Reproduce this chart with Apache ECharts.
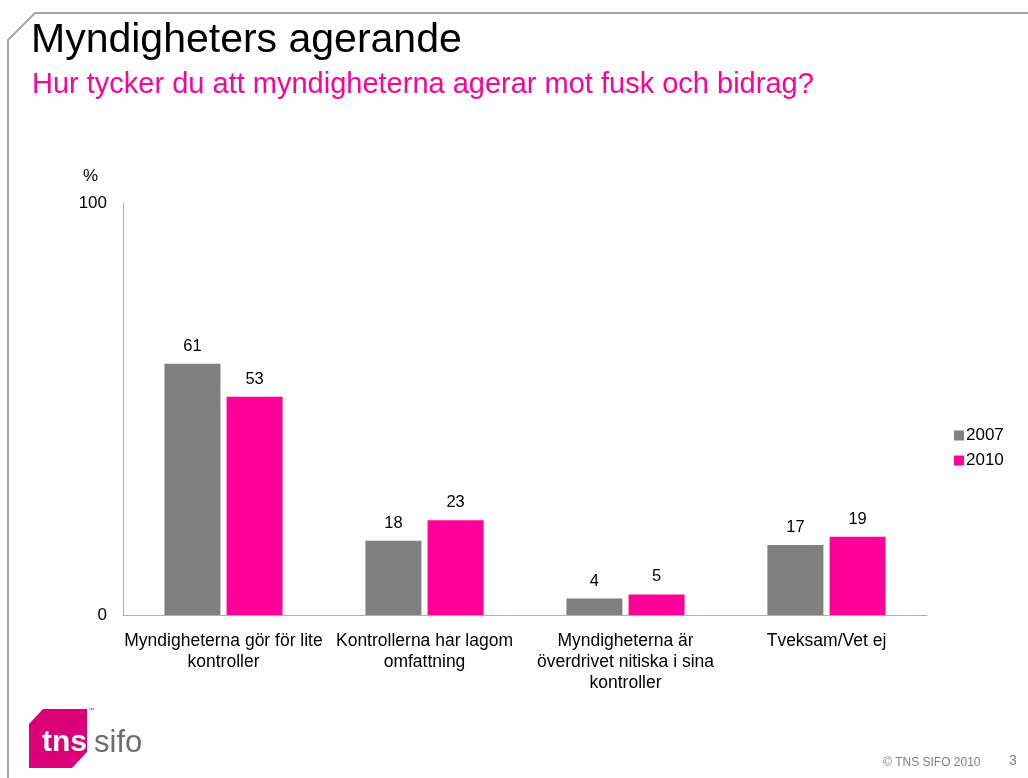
<!DOCTYPE html>
<html>
<head>
<meta charset="utf-8">
<script src="https://cdn.jsdelivr.net/npm/echarts@6/dist/echarts.min.js"></script>
<style>
  html, body { margin: 0; padding: 0; background: #fff; }
  #chart { width: 1028px; height: 778px; }
</style>
</head>
<body>
<div id="chart"></div>
<script>
// answer categories (line breaks as on the slide)
const categories = [
  'Myndigheterna gör för lite\nkontroller',
  'Kontrollerna har lagom\nomfattning',
  'Myndigheterna är\növerdrivet nitiska i sina\nkontroller',
  'Tveksam/Vet ej'
]
const years = ['2007', '2010']
const values2007 = [61, 18, 4, 17]
const values2010 = [53, 23, 5, 19]
const yTicks = [0, 100]

const GRAY = '#808080'
const PINK = '#ff0099'
const FONT = '"Liberation Sans", Arial, sans-serif'

const chart = echarts.init(document.getElementById('chart'))

const barSeries = (name, data, color) => ({
  name,
  type: 'bar',
  data,
  barWidth: 56,
  barGap: '11%',
  itemStyle: { color },
  label: {
    show: true,
    position: 'top',
    distance: 9,
    color: '#000',
    fontSize: 16.5,
    fontFamily: FONT
  }
})

chart.setOption({
  animation: false,
  backgroundColor: '#fff',
  textStyle: { fontFamily: FONT },
  grid: { left: 123, right: 101, top: 203, bottom: 163 },
  legend: {
    orient: 'vertical',
    left: 949,
    top: 422,
    itemWidth: 10,
    itemHeight: 10,
    itemGap: 8,
    icon: 'rect',
    textStyle: { fontSize: 17, color: '#000', fontFamily: FONT, padding: [0, 0, 0, -3] },
    data: years
  },
  xAxis: {
    type: 'category',
    data: categories,
    axisLine: { lineStyle: { color: '#b0b0b0', width: 1 } },
    axisTick: { show: false },
    axisLabel: {
      color: '#000',
      fontSize: 17.5,
      fontFamily: FONT,
      margin: 16,
      lineHeight: 21,
      interval: 0
    }
  },
  yAxis: {
    type: 'value',
    min: 0,
    max: 100,
    interval: 100,
    name: '%',
    nameLocation: 'end',
    nameGap: 18,
    nameTextStyle: { color: '#000', fontSize: 17, fontFamily: FONT, align: 'right', padding: [0, 25, 0, 0] },
    axisLine: { show: true, lineStyle: { color: '#b0b0b0', width: 1 } },
    axisTick: { show: false },
    splitLine: { show: false },
    axisLabel: {
      color: '#000',
      fontSize: 17,
      fontFamily: FONT,
      margin: 16,
      formatter: v => (yTicks.includes(v) ? String(v) : '')
    }
  },
  series: [
    barSeries(years[0], values2007, GRAY),
    barSeries(years[1], values2010, PINK)
  ],
  graphic: [
    // slide frame with chamfered top-left corner
    {
      type: 'polyline',
      shape: { points: [[8, 778], [8, 40], [35, 13], [1028, 13]] },
      style: { stroke: '#a6a6a6', lineWidth: 2, fill: null }
    },
    {
      type: 'text',
      left: 31,
      top: 20,
      style: { text: 'Myndigheters agerande', fontSize: 41, fill: '#000', fontFamily: FONT }
    },
    {
      type: 'text',
      left: 32,
      top: 70,
      style: { text: 'Hur tycker du att myndigheterna agerar mot fusk och bidrag?', fontSize: 29, fill: PINK, fontFamily: FONT }
    },
    // tns sifo logo
    {
      type: 'polygon',
      shape: { points: [[43, 709], [87, 709], [87, 752], [72, 768], [29, 768], [29, 724]] },
      style: { fill: '#dc0078' }
    },
    {
      type: 'text',
      left: 42,
      top: 728,
      style: { text: 'tns', fontSize: 30, fontWeight: 'bold', fill: '#fff', fontFamily: FONT }
    },
    {
      type: 'text',
      left: 94,
      top: 728,
      style: { text: 'sifo', fontSize: 31, fill: '#6e6e6e', fontFamily: FONT }
    },
    {
      type: 'text',
      left: 88,
      top: 707,
      style: { text: '™', fontSize: 6, fill: '#dc0078', fontFamily: FONT }
    },
    {
      type: 'text',
      left: 883,
      top: 757,
      style: { text: '© TNS SIFO 2010', fontSize: 12, fill: '#808080', fontFamily: FONT }
    },
    {
      type: 'text',
      left: 1009,
      top: 754,
      style: { text: '3', fontSize: 14, fill: '#808080', fontFamily: FONT }
    }
  ]
})
</script>
</body>
</html>
